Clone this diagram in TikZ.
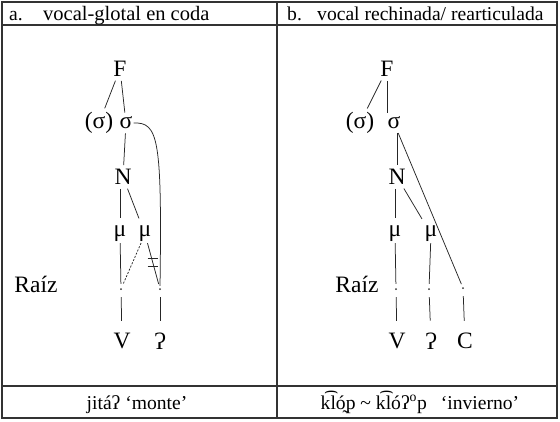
\documentclass[tikz,border=0pt]{standalone}
\usepackage{fontspec}
\setmainfont{Liberation Serif}
\begin{document}
\begin{tikzpicture}[
    x=1pt, y=-1pt,
    every node/.style={inner sep=1pt, font=\fontsize{23.5}{26}\selectfont},
    cell/.style={inner sep=0pt, font=\fontsize{19.6}{23}\selectfont},
    root/.style={circle, fill=black!80, inner sep=0pt, minimum size=2pt},
    rule/.style={draw=black!80, line width=1.3pt},
    link/.style={draw=black!85, line width=0.75pt, shorten <=3pt, shorten >=3pt},
    stem/.style={link, shorten <=0pt, shorten >=4pt},
    drop/.style={link, shorten <=7pt, shorten >=11pt},
    bar/.style={draw=black!85, line width=0.75pt},
  ]
  \useasboundingbox (0,0) rectangle (560,421);
  \draw[rule] (2,2) rectangle (557,418);
  \draw[rule] (2,25) -- (557,25) (2,386) -- (557,386) (277,2) -- (277,418);

  % a. vocal-glotal
  \node[cell, anchor=base west] (ka) at (9,20) {a.};
  \node[cell, anchor=base west, font=\fontsize{20.5}{23}\selectfont] (ta) at (43,20) {vocal-glotal en coda};
  \node (Fa) at (120,69) {F};
  \node (xa) at (99,123) {(σ)};
  \node (sa) at (126,123) {σ};
  \node (Na) at (123,177) {N};
  \node (ma) at (120,234) {μ};
  \node (mb) at (145,234) {μ};
  \node[anchor=base] (ra) at (36,292) {Raíz};
  \node[root] (da) at (121,289) {};
  \node[root] (db) at (160,289) {};
  \node (Va) at (122,341) {V};
  \node (Ga) at (160,341) {Ɂ};
  \node[cell, anchor=base] (wa) at (137,409) {jitáʔ ‘monte’};

  \draw[link] (Fa) -- (xa);
  \draw[link] (Fa) -- (sa);
  \draw[link] (sa) -- (Na);
  \draw[link, shorten >=7pt] (Na.south -| ma) -- (ma);
  \draw[link, shorten >=7pt] (Na) -- (mb);
  \draw[stem] (ma) -- (da);
  \draw[stem, dash pattern=on 2pt off 1.5pt] (mb) -- (da);
  \draw[stem] (mb) -- coordinate[pos=0.42] (cut) (db);
  \draw[bar] ([shift={(-5,-4)}]cut) -- ([shift={(5,-4)}]cut)
             ([shift={(-5,4)}]cut) -- ([shift={(5,4)}]cut);
  \draw[link, shorten <=0pt, shorten >=2pt] (sa.east) .. controls +(25,-1) and +(2,-149) .. (db.north);
  \draw[drop] (da) -- (Va);
  \draw[drop] (db) -- (Ga);

  % b. vocal rechinada
  \node[cell, anchor=base west] (kb) at (287,20) {b.};
  \node[cell, anchor=base west] (tb) at (317,20) {vocal rechinada/ rearticulada};
  \node (Fb) at (387,69) {F};
  \node (xb) at (360,123) {(σ)};
  \node (sb) at (394,123) {σ};
  \node (Nb) at (397,177) {N};
  \node (mc) at (395,234) {μ};
  \node (md) at (431,234) {μ};
  \node[anchor=base] (rb) at (357,292) {Raíz};
  \node[root] (dc) at (396,289) {};
  \node[root] (dd) at (429,289) {};
  \node[root] (de) at (463,288) {};
  \node (Vb) at (397,341) {V};
  \node (Gb) at (431,341) {Ɂ};
  \node (Cb) at (465,341) {C};
  \node[cell, anchor=base] (wb) at (420,409) {k͡ló̰p {\char"7E} k͡lóʔ\textsuperscript{o}p\hspace{14pt}‘invierno’};

  \draw[link] (Fb) -- (xb);
  \draw[link] (Fb.south) -- (Fb.south |- sb.north);
  \draw[link] (sb.south -| Nb) -- (Nb);
  \draw[link] (sb) -- (de);
  \draw[link, shorten >=7pt] (Nb.south -| mc) -- (mc);
  \draw[link, shorten >=7pt] (Nb) -- (md);
  \draw[stem] (mc) -- (dc);
  \draw[stem] (md) -- (dd);
  \draw[drop] (dc) -- (Vb);
  \draw[drop] (dd) -- (Gb);
  \draw[drop] (de) -- (Cb);
\end{tikzpicture}
\end{document}
